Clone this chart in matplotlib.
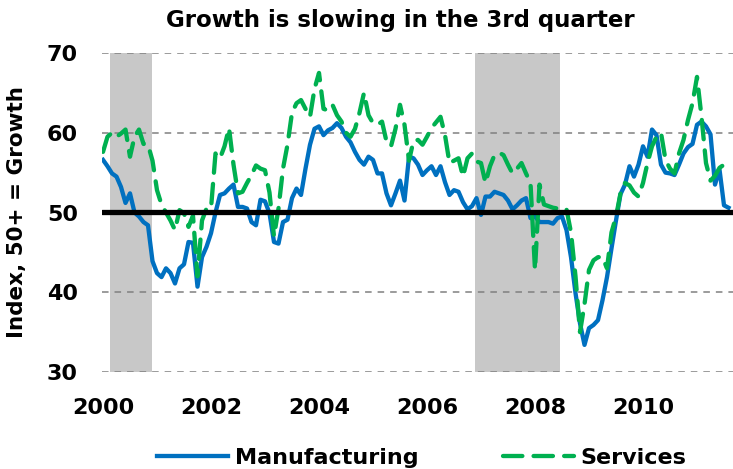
import numpy as np
import matplotlib
matplotlib.use("Agg")
import matplotlib.pyplot as plt

# monthly index values, Jan 2000 - Aug 2011
manufacturing = [
    56.6, 55.8, 54.9, 54.5, 53.2, 51.2, 52.4, 50.0, 49.5, 48.8, 48.4, 43.9,
    42.4, 41.9, 43.0, 42.4, 41.1, 43.0, 43.5, 46.3, 46.2, 40.7, 44.4, 45.7,
    47.4, 50.0, 52.2, 52.4, 53.0, 53.5, 50.7, 50.7, 50.5, 48.8, 48.4, 51.6,
    51.4, 49.9, 46.3, 46.1, 48.8, 49.1, 51.8, 53.0, 52.2, 55.5, 58.5, 60.5,
    60.8, 59.7, 60.3, 60.6, 61.2, 60.6, 59.5, 58.8, 57.6, 56.6, 56.0, 57.0,
    56.6, 54.9, 54.9, 52.4, 50.9, 52.4, 54.0, 51.5, 57.0, 56.8, 56.0, 54.7,
    55.3, 55.8, 54.7, 55.8, 53.8, 52.2, 52.8, 52.6, 51.3, 50.4, 50.8, 51.8,
    49.7, 52.0, 52.0, 52.6, 52.4, 52.2, 51.5, 50.4, 50.9, 51.5, 51.8, 49.3,
    49.5, 48.8, 48.8, 48.8, 48.6, 49.3, 49.5, 47.8, 44.4, 39.9, 36.1, 33.4,
    35.5, 35.9, 36.5, 39.0, 41.9, 45.5, 49.0, 52.3, 53.5, 55.8, 54.5, 56.0,
    58.3, 57.0, 60.4, 59.7, 56.0, 55.0, 54.9, 54.7, 56.0, 57.4, 58.2, 58.6,
    61.0, 61.4, 60.8, 59.8, 53.5, 55.4, 50.9, 50.6,
]
services = [
    57.6, 59.5, 60.0, 59.5, 59.9, 60.4, 57.0, 59.5, 60.4, 58.6, 58.5, 56.5,
    52.8, 51.0, 50.0, 49.0, 47.8, 50.3, 49.9, 48.2, 49.6, 42.0, 49.0, 50.5,
    50.5, 57.4, 56.8, 58.3, 60.6, 56.0, 52.4, 52.6, 53.7, 54.7, 55.9, 55.5,
    55.3, 52.5, 47.0, 50.5, 55.5, 58.5, 62.5, 63.7, 64.1, 63.0, 62.0, 65.5,
    67.5, 63.0, 62.8, 63.5, 62.2, 61.4, 60.0, 59.5, 60.5, 62.5, 65.0, 62.2,
    61.2, 61.0, 61.4, 58.9, 58.3, 60.5, 63.5, 61.0, 56.5, 59.0, 59.1, 58.5,
    59.5, 60.6, 61.3, 62.0, 59.7, 56.2, 56.5, 56.8, 54.5, 56.8, 57.4, 56.4,
    56.2, 53.7, 55.8, 57.2, 57.5, 57.2, 56.0, 54.9, 55.5, 56.2, 54.9, 53.7,
    42.8, 53.5, 51.0, 50.8, 50.6, 50.5, 50.6, 50.4, 47.5, 42.0, 35.0, 38.5,
    42.8, 44.0, 44.4, 44.4, 43.0, 47.5, 49.5, 52.4, 53.7, 53.4, 52.5, 52.0,
    53.7, 56.2, 58.3, 59.5, 60.0, 56.6, 55.5, 54.9, 57.4, 59.1, 61.6, 63.7,
    67.0, 62.0, 56.2, 54.0, 54.6, 55.6, 56.0, 55.6,
]
# shaded periods, in months since Jan 2000
shade_spans = [(1.5, 10.9), (82.7, 101.6)]
year_labels = ['2000', '2002', '2004', '2006', '2008', '2010']

months = np.arange(len(manufacturing))

plt.rcParams['font.family'] = ['DejaVu Sans']
plt.rcParams['font.weight'] = 'bold'

fig = plt.figure(figsize=(7.33, 4.69), dpi=100)
ax = fig.add_axes([101.65/733, 97/469, 631.35/733, 319/469])

for a, b in shade_spans:
    ax.axvspan(a, b, color='#c8c8c8', lw=0, zorder=0.2)

ax.plot(months, manufacturing, color='#0070c0', lw=3.1, solid_joinstyle='round',
        label='Manufacturing', zorder=3)
ax.plot(months, services, color='#00b050', lw=3.1, dashes=(4.5, 2.6),
        dash_capstyle='round', label='Services', zorder=4)
ax.axhline(50, color='black', lw=3.8, solid_capstyle='round', zorder=5)

ax.set_xlim(-0.3, 140)
ax.set_ylim(30, 70)
ax.set_yticks([30, 40, 50, 60, 70])
ax.set_xticks(np.arange(0, 121, 24))
ax.set_xticklabels(year_labels)
ax.set_axisbelow(True)
ax.grid(axis='y', color='#808080', lw=1.1, dashes=(4.3, 3.9))
ax.grid(axis='x', visible=False)
for s in ax.spines.values():
    s.set_visible(False)
ax.tick_params(axis='y', length=0, pad=17, labelsize=16)
ax.tick_params(axis='x', length=0, pad=19, labelsize=16)
for lab in ax.get_xticklabels() + ax.get_yticklabels():
    lab.set_fontweight('bold')

ax.set_ylabel('Index, 50+ = Growth', fontsize=15.5, fontweight='bold', labelpad=14)

fig.text(0.546, 0.957, 'Growth is slowing in the 3rd quarter', ha='center', va='center',
         fontsize=16.5, fontweight='bold')

fig.legend(loc='center', bbox_to_anchor=(0.575, 0.0235), ncol=2, frameon=False,
           prop={'size': 16, 'weight': 'bold'}, handlelength=3.2, handletextpad=0.3,
           columnspacing=3.8, borderpad=0)

fig.savefig('out.png', dpi=100)
